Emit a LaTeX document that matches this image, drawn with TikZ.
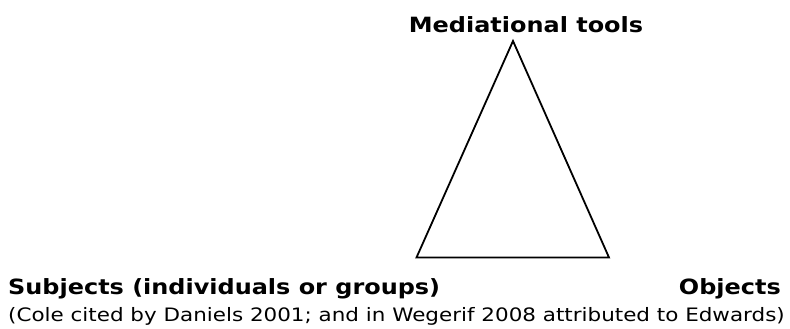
\documentclass[tikz,border=0pt]{standalone}
\usepackage{fontspec}
\setmainfont{DejaVu Sans}
\newfontfamily\boldwide[FakeStretch=1.14]{DejaVu Sans Bold}
\newfontfamily\regwide[FakeStretch=1.16]{DejaVu Sans}
\begin{document}
\begin{tikzpicture}[x=1pt,y=-1pt,
  lbl/.style={inner sep=0pt,font=\boldwide\fontsize{21}{24}\selectfont},
  captxt/.style={inner sep=0pt,font=\regwide\fontsize{18.5}{22}\selectfont},
  edge/.style={line width=1.8pt,line join=miter}]
\useasboundingbox (0,0) rectangle (790,329);
\coordinate (top) at (513,41);
\coordinate (bl) at (416.5,257.5);
\coordinate (br) at (609,257.5);
\draw[edge] (top) -- (bl) -- (br) -- cycle;
\node[lbl,anchor=base] (med) at (526,33) {Mediational tools};
\node[lbl,anchor=base west] (subj) at (8,294) {Subjects (individuals or groups)};
\node[lbl,anchor=base east] (obj) at (781,294) {Objects};
\node[captxt,anchor=base west] (src) at (8,321.5) {(Cole cited by Daniels 2001; and in Wegerif 2008 attributed to Edwards)};
\end{tikzpicture}
\end{document}
